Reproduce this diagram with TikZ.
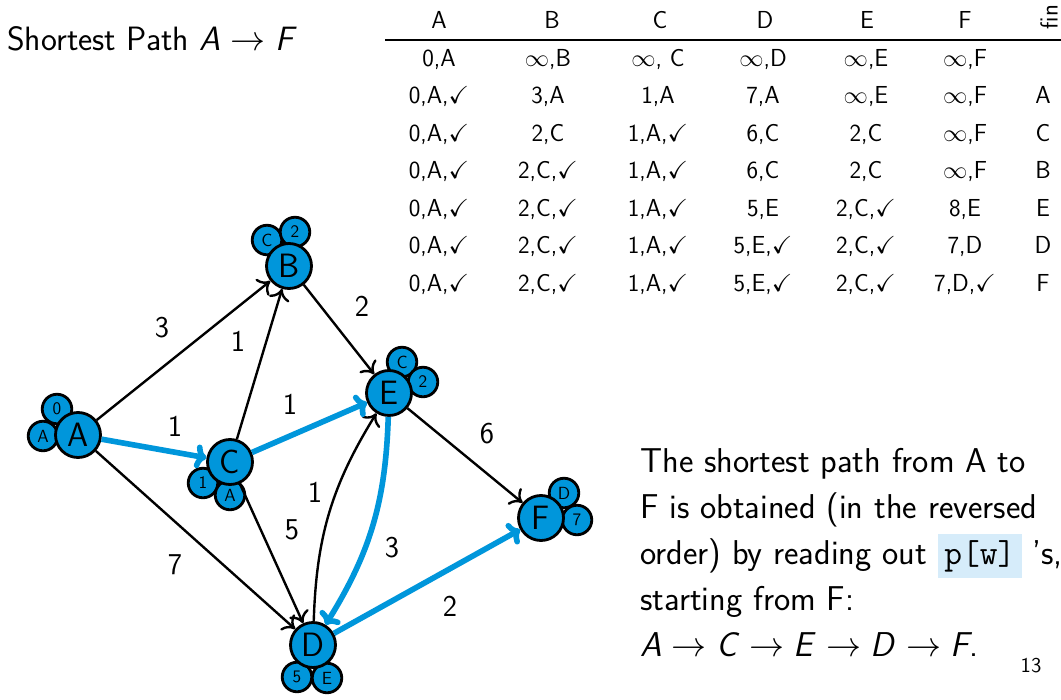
\documentclass[tikz,border=0pt]{standalone}
\usepackage{amssymb}
\usetikzlibrary{arrows.meta}
\renewcommand{\familydefault}{\sfdefault}

\definecolor{nodeblue}{RGB}{0,150,219}
\definecolor{boxblue}{RGB}{214,236,250}

\newcommand{\titlefont}{\sffamily\fontsize{24}{28}\selectfont}
\newcommand{\parafont}{\sffamily\fontsize{24.5}{29}\selectfont}
\newcommand{\cellfont}{\sffamily\fontsize{17.5}{20}\selectfont}
\newcommand{\wtfont}{\sffamily\fontsize{21.5}{24}\selectfont}
\newcommand{\vfont}{\sffamily\fontsize{24}{28}\selectfont}
\newcommand{\tagfont}{\sffamily\fontsize{12.5}{14}\selectfont}
\newcommand{\ck}{$\checkmark$}
\newcommand{\infy}{$\infty$}
\newcommand{\arr}{$\;\to\;$}

\begin{document}
\begin{tikzpicture}[x=0.025cm, y=-0.025cm, font=\sffamily,
  vert/.style={circle, draw=black, fill=nodeblue, line width=2pt, minimum size=32pt, inner sep=0pt, font=\vfont},
  mini/.style={circle, draw=black, fill=nodeblue, line width=2pt, minimum size=21pt, inner sep=0pt, font=\tagfont},
  plain/.style={draw=black, line width=1.7pt, -{Computer Modern Rightarrow[length=8pt, width=15pt]}},
  tree/.style={draw=nodeblue, line width=4pt, -{Computer Modern Rightarrow[length=8pt, width=17pt]}},
  wlabel/.style={font=\wtfont, inner sep=0pt},
  cell/.style={anchor=base, font=\cellfont, inner sep=0pt}]

  % Frame of the slide
  \useasboundingbox (0,0) rectangle (1061,699);
  \clip (0,0) rectangle (1061,699);

  % Title
  \node[anchor=base west, font=\titlefont, inner sep=0pt] (title) at (7,50) {Shortest Path \textit{A}\arr\textit{F}};

  % Table header and rule
  \foreach \colx/\head in {439/A,552/B,660/C,765/D,867/E,965/F}
    \node[cell] (head\head) at (\colx,28) {\head};
  \node[font=\cellfont, rotate=90, inner sep=0pt] (headfin) at (1049,17) {fin};
  \draw[line width=1pt] (385,40) coordinate (rulel) -- (1061,40) coordinate (ruler);

  % Table rows
  \foreach \rowy/\ca/\cb/\cc/\cd/\ce/\cf/\cg [count=\r] in {
    66/{0,A}/{\infy,B}/{\infy, C}/{\infy,D}/{\infy,E}/{\infy,F}/{},
    103.5/{0,A,\ck}/{3,A}/{1,A}/{7,A}/{\infy,E}/{\infy,F}/{A},
    141/{0,A,\ck}/{2,C}/{1,A,\ck}/{6,C}/{2,C}/{\infy,F}/{C},
    178.5/{0,A,\ck}/{2,C,\ck}/{1,A,\ck}/{6,C}/{2,C}/{\infy,F}/{B},
    216/{0,A,\ck}/{2,C,\ck}/{1,A,\ck}/{5,E}/{2,C,\ck}/{8,E}/{E},
    253.5/{0,A,\ck}/{2,C,\ck}/{1,A,\ck}/{5,E,\ck}/{2,C,\ck}/{7,D}/{D},
    291/{0,A,\ck}/{2,C,\ck}/{1,A,\ck}/{5,E,\ck}/{2,C,\ck}/{7,D,\ck}/{F}}
  {
    \node[cell] (r\r a) at (439,\rowy) {\ca};
    \node[cell] (r\r b) at (548,\rowy) {\cb};
    \node[cell] (r\r c) at (658,\rowy) {\cc};
    \node[cell] (r\r d) at (763,\rowy) {\cd};
    \node[cell] (r\r e) at (866,\rowy) {\ce};
    \node[cell] (r\r f) at (965,\rowy) {\cf};
    \node[cell] (r\r g) at (1043,\rowy) {\cg};
  }

  % Predecessor and distance tags behind the vertices
  \node[mini] (predA) at (43,436) {A};
  \node[mini] (distA) at (57,409) {0};
  \node[mini] (predB) at (267,240) {C};
  \node[mini] (distB) at (295,232) {2};
  \node[mini] (distC) at (203,483) {1};
  \node[mini] (predC) at (230,495) {A};
  \node[mini] (distD) at (297,677) {5};
  \node[mini] (predD) at (327,678) {E};
  \node[mini] (predE) at (402,362) {C};
  \node[mini] (distE) at (423,382) {2};
  \node[mini] (predF) at (564,493) {D};
  \node[mini] (distF) at (577,520) {7};

  % Vertices
  \node[vert] (A) at (78,435) {A};
  \node[vert] (B) at (289,266) {B};
  \node[vert] (C) at (230,462) {C};
  \node[vert] (D) at (313,645) {D};
  \node[vert] (E) at (389,393) {E};
  \node[vert] (F) at (541,518) {F};

  % Edges
  \draw[plain] (A) -- (B);
  \draw[plain] (A) -- (D);
  \draw[plain] (C) -- (B);
  \draw[plain] (B) -- (E);
  \draw[plain] (C) -- (D);
  \draw[plain] (D) to[bend left=15] (E);
  \draw[plain] (E) -- (F);

  % Shortest path tree
  \draw[tree] (A) -- (C);
  \draw[tree] (C) -- (E);
  \draw[tree] (E) to[bend left=15] (D);
  \draw[tree] (D) -- (F);

  % Edge weights
  \node[wlabel] (wAB) at (162,328) {3};
  \node[wlabel] (wCB) at (238,341) {1};
  \node[wlabel] (wAC) at (175,426) {1};
  \node[wlabel] (wCE) at (290,404) {1};
  \node[wlabel] (wBE) at (362,306) {2};
  \node[wlabel] (wEF) at (487,434) {6};
  \node[wlabel] (wAD) at (175,565) {7};
  \node[wlabel] (wCD) at (292,530) {5};
  \node[wlabel] (wDE) at (315,492) {1};
  \node[wlabel] (wED) at (392,548) {3};
  \node[wlabel] (wDF) at (450,606) {2};

  % Explanation
  \begin{scope}[every node/.style={anchor=base west, font=\parafont, inner sep=0pt}]
    \node (line1) at (640,472) {The shortest path from A to};
    \node (line2) at (640,518) {F is obtained (in the reversed};
    \node (line3) at (640,564) {order) by reading out {\setlength{\fboxsep}{4.6pt}\colorbox{boxblue}{\ttfamily p[w]}} 's,};
    \node (line4) at (640,610) {starting from F:};
    \node (line5) at (640,656) {\textit{A}\arr\textit{C}\arr\textit{E}\arr\textit{D}\arr\textit{F}.};
  \end{scope}

  % Page number
  \node[anchor=base, font=\fontsize{15}{18}\selectfont, inner sep=0pt] (pagenum) at (1031,672) {13};

\end{tikzpicture}
\end{document}
